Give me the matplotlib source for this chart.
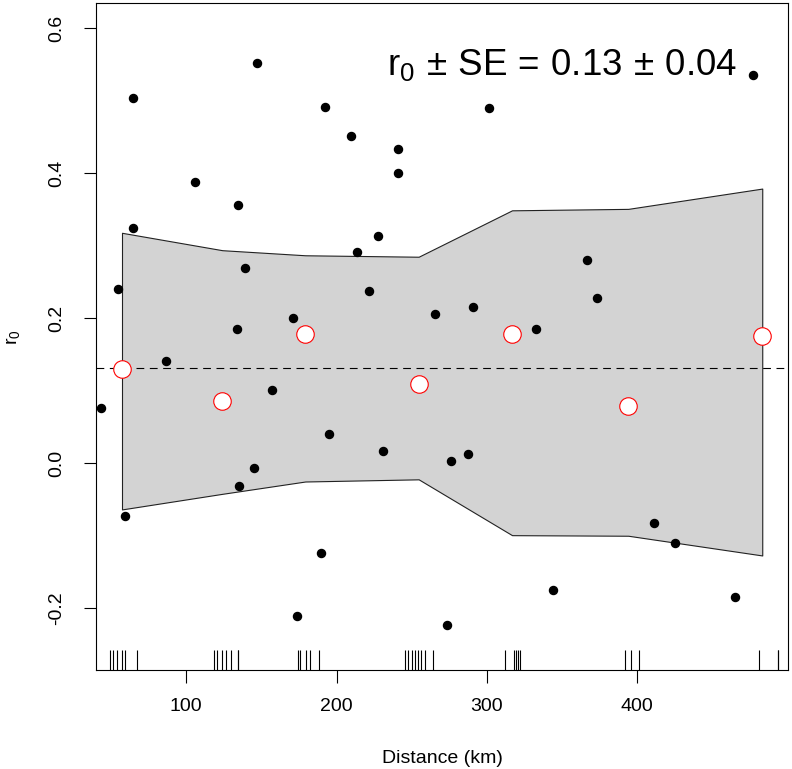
# -*- coding: utf-8 -*-

import matplotlib
matplotlib.use('Agg')
from matplotlib import pyplot as plt

"""
Correlogram style plot: r0 against distance, with bin means and an envelope.
"""

# pairwise points (distance km, r0)
dist = [64.8, 147.1, 192.3, 209.8, 240.6, 240.6, 105.8, 134.2, 64.8, 227.3,
        213.6, 138.9, 54.8, 221.8, 265.7, 171.2, 133.6, 477.2, 301.4, 366.5,
        373.4, 290.5, 332.4, 86.5, 43.3, 157.0, 194.7, 230.7, 144.9, 134.9,
        59.5, 189.4, 173.9, 287.2, 276.3, 411.1, 425.1, 343.7, 465.0, 273.6]
r0 = [0.504, 0.552, 0.492, 0.451, 0.433, 0.401, 0.388, 0.357, 0.324, 0.314,
      0.292, 0.270, 0.240, 0.238, 0.206, 0.201, 0.186, 0.536, 0.490, 0.280,
      0.228, 0.216, 0.186, 0.141, 0.077, 0.1015, 0.040, 0.0165, -0.007, -0.031,
      -0.073, -0.124, -0.211, 0.0124, 0.003, -0.082, -0.110, -0.175, -0.184, -0.223]

# distance classes: centres, means and envelope
bin_x = [57.3, 124.0, 179.2, 254.6, 316.7, 394.0, 483.1]
bin_mean = [0.130, 0.086, 0.178, 0.109, 0.178, 0.079, 0.176]
env_upper = [0.318, 0.294, 0.287, 0.285, 0.349, 0.351, 0.379]
env_lower = [-0.0635, -0.042, -0.025, -0.022, -0.099, -0.0998, -0.127]

overall_r0 = 0.131

# rug of distances
rug = [49.4, 51.3, 53.9, 57.1, 59.3, 67.0,
       118.5, 120.5, 123.5, 126.4, 129.8, 134.6, 134.6,
       174.3, 175.9, 179.6, 182.0, 188.3,
       245.8, 247.7, 250.2, 252.2, 254.2, 256.2, 259.1, 264.2,
       312.0, 318.0, 319.3, 320.6, 322.0,
       391.8, 395.6, 400.9,
       480.9, 493.8, 493.8]

xticks = [100, 200, 300, 400]
yticks = [-0.2, 0.0, 0.2, 0.4, 0.6]
ytick_labels = ['-0.2', '0.0', '0.2', '0.4', '0.6']

plt.rcParams['font.family'] = ['Liberation Sans', 'DejaVu Sans']
plt.rcParams['mathtext.fontset'] = 'custom'
plt.rcParams['mathtext.rm'] = 'Liberation Sans'
plt.rcParams['mathtext.it'] = 'Liberation Sans:italic'
plt.rcParams['font.size'] = 14

fig = plt.figure(figsize=(7.92, 7.69), dpi=100)
ax = fig.add_axes([0.1212, 0.1287, 0.8737, 0.8670])

ax.fill_between(bin_x, env_lower, env_upper, facecolor='#d3d3d3',
                edgecolor='#222222', linewidth=0.8, zorder=1)
ax.axhline(overall_r0, color='black', linewidth=0.8, linestyle=(0, (7, 5)), zorder=2)
ax.plot(dist, r0, 'o', color='black', markersize=5.8, zorder=3)
ax.plot(bin_x, bin_mean, 'o', markerfacecolor='white', markeredgecolor='red',
        markeredgewidth=0.8, markersize=12.6, zorder=4)
ax.vlines(rug, 0, 0.03, transform=ax.get_xaxis_transform(), color='black',
          linewidth=0.8, zorder=2)

ax.text(0.926, 0.8925,
        r'$\mathrm{r_0 \,\pm\, SE \,=\, 0.13 \,\pm\, 0.04}$',
        transform=ax.transAxes, ha='right', va='baseline', fontsize=26.5)

ax.set_xlim(40.0, 500.2)
ax.set_ylim(-0.285, 0.6345)
ax.set_xticks(xticks)
ax.set_yticks(yticks)
ax.set_yticklabels(ytick_labels, rotation=90, va='center')
ax.tick_params(axis='both', direction='out', length=9, width=0.8)
ax.tick_params(axis='x', pad=11)
ax.tick_params(axis='y', pad=13)
for s in ax.spines.values():
    s.set_linewidth(0.8)

ax.set_xlabel('Distance (km)', labelpad=25)
ax.set_ylabel(r'$\mathregular{r_0}$', labelpad=19)

fig.savefig('out.png', dpi=100)
